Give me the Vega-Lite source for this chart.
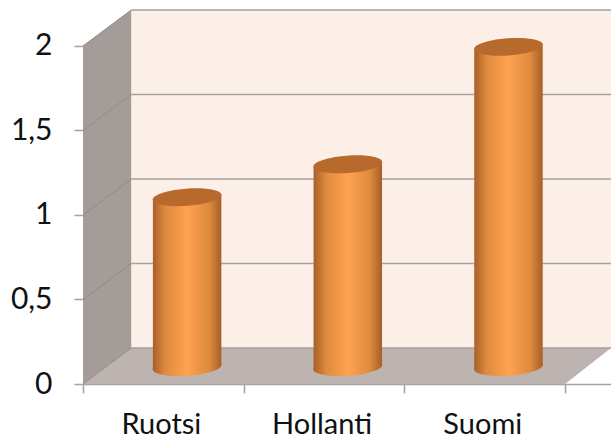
{
"$schema":"https://vega.github.io/schema/vega-lite/v6.json",
"width":528,"height":374,
"padding":{"left":83,"top":10,"right":0,"bottom":57},
"autosize":{"type":"none"},
"background":"white",
"config":{"view":{"stroke":null}},
"datasets":{
"back":[{"x0":0.3,"x1":3.286,"y0":0.213,"y1":2.213}],
"left":[{"x":0,"y0":0,"y1":2},{"x":0.3,"y0":0.213,"y1":2.213}],
"floor":[{"x":0,"y0":0,"y1":0},{"x":0.3,"y0":0,"y1":0.213},{"x":3,"y0":0,"y1":0.213},{"x":3.286,"y0":0.213,"y1":0.213}],
"gridBack":[{"x0":0.3,"x1":3.286,"y":0.213},{"x0":0.3,"x1":3.286,"y":0.713},{"x0":0.3,"x1":3.286,"y":1.213},{"x0":0.3,"x1":3.286,"y":1.713},{"x0":0.3,"x1":3.286,"y":2.213}],
"gridLeft":[{"x0":0,"x1":0.3,"y0":0,"y1":0.213},{"x0":0,"x1":0.3,"y0":0.5,"y1":0.713},{"x0":0,"x1":0.3,"y0":1,"y1":1.213},{"x0":0,"x1":0.3,"y0":1.5,"y1":1.713},{"x0":0,"x1":0.3,"y0":2,"y1":2.213}],
"bars":[
{"maa":"Ruotsi","arvo":1.0,"xc":0.648,"pohja":0.1,"huippu":1.105,"lx":0.488},
{"maa":"Hollanti","arvo":1.2,"xc":1.648,"pohja":0.1,"huippu":1.3,"lx":1.488},
{"maa":"Suomi","arvo":1.9,"xc":2.648,"pohja":0.1,"huippu":1.995,"lx":2.488}
],
"sides":[
{"maa":"Ruotsi","x":0.435,"ala":0.086,"yla":1.091},{"maa":"Ruotsi","x":0.861,"ala":0.114,"yla":1.119},
{"maa":"Hollanti","x":1.435,"ala":0.086,"yla":1.286},{"maa":"Hollanti","x":1.861,"ala":0.114,"yla":1.314},
{"maa":"Suomi","x":2.435,"ala":0.086,"yla":1.981},{"maa":"Suomi","x":2.861,"ala":0.114,"yla":2.009}
]},
"layer":[
{"data":{"name":"back"},"mark":{"type":"rect","color":"#fcefe8"},
 "encoding":{"x":{"field":"x0","type":"quantitative","scale":{"domain":[0,3.286],"nice":false,"zero":false},
   "axis":{"values":[0,1,2,3],"labels":false,"title":null,"grid":false,"domain":true,"domainColor":"#a6a29e","tickColor":"#a6a29e","tickSize":9,"domainWidth":1.5,"tickWidth":1.5}},
  "x2":{"field":"x1"},
  "y":{"field":"y0","type":"quantitative","scale":{"domain":[0,2.213],"nice":false,"zero":false},
   "axis":{"values":[0,0.5,1,1.5,2],"labelExpr":"replace(format(datum.value,'.1~f'),'.',',')","title":null,"grid":false,"domain":false,"tickColor":"#a6a29e","tickSize":9,"tickWidth":1.5,"labelFontSize":30,"labelFont":"Lato","labelColor":"#111111","labelPadding":22}},
  "y2":{"field":"y1"}}},
{"data":{"name":"left"},"mark":{"type":"area","color":"#a39c98"},
 "encoding":{"x":{"field":"x","type":"quantitative"},"y":{"field":"y0","type":"quantitative"},"y2":{"field":"y1"}}},
{"data":{"name":"floor"},"mark":{"type":"area","color":"#bdb3b0"},
 "encoding":{"x":{"field":"x","type":"quantitative"},"y":{"field":"y0","type":"quantitative"},"y2":{"field":"y1"}}},
{"data":{"name":"gridBack"},"mark":{"type":"rule","color":"#a6a29e","strokeWidth":1.5},
 "encoding":{"x":{"field":"x0","type":"quantitative"},"x2":{"field":"x1"},"y":{"field":"y","type":"quantitative"}}},
{"data":{"name":"gridLeft"},"mark":{"type":"rule","color":"#8f8b87","strokeWidth":1},
 "encoding":{"x":{"field":"x0","type":"quantitative"},"x2":{"field":"x1"},"y":{"field":"y0","type":"quantitative"},"y2":{"field":"y1"}}},
{"data":{"name":"bars"},"mark":{"type":"point","filled":true,"opacity":1,"size":4761,"shape":"M-0.9976,0.07A1,0.25,-4,1,0,0.9976,-0.07A1,0.25,-4,1,0,-0.9976,0.07Z","color":{"x1":0,"x2":1,"y1":0,"y2":0,"gradient":"linear","stops":[{"offset":0,"color":"#a85f28"},{"offset":0.18,"color":"#df8a3e"},{"offset":0.5,"color":"#ffa24f"},{"offset":0.82,"color":"#df8a3e"},{"offset":1,"color":"#a85f28"}]}},
 "encoding":{"x":{"field":"xc","type":"quantitative"},"y":{"field":"pohja","type":"quantitative"}}},
{"data":{"name":"sides"},"mark":{"type":"area","color":{"x1":0,"x2":1,"y1":0,"y2":0,"gradient":"linear","stops":[{"offset":0,"color":"#a85f28"},{"offset":0.18,"color":"#df8a3e"},{"offset":0.5,"color":"#ffa24f"},{"offset":0.82,"color":"#df8a3e"},{"offset":1,"color":"#a85f28"}]}},
 "encoding":{"x":{"field":"x","type":"quantitative"},"y":{"field":"ala","type":"quantitative"},"y2":{"field":"yla"},"detail":{"field":"maa","type":"nominal"}}},
{"data":{"name":"bars"},"mark":{"type":"point","filled":true,"opacity":1,"size":4761,"shape":"M-0.9976,0.07A1,0.25,-4,1,0,0.9976,-0.07A1,0.25,-4,1,0,-0.9976,0.07Z","color":"#b8692c"},
 "encoding":{"x":{"field":"xc","type":"quantitative"},"y":{"field":"huippu","type":"quantitative"}}},
{"data":{"name":"bars"},"mark":{"type":"text","font":"Lato","fontSize":29,"color":"#111111","baseline":"middle","dy":41},
 "encoding":{"x":{"field":"lx","type":"quantitative"},"y":{"datum":0,"type":"quantitative"},"text":{"field":"maa","type":"nominal"}}}
]
}
